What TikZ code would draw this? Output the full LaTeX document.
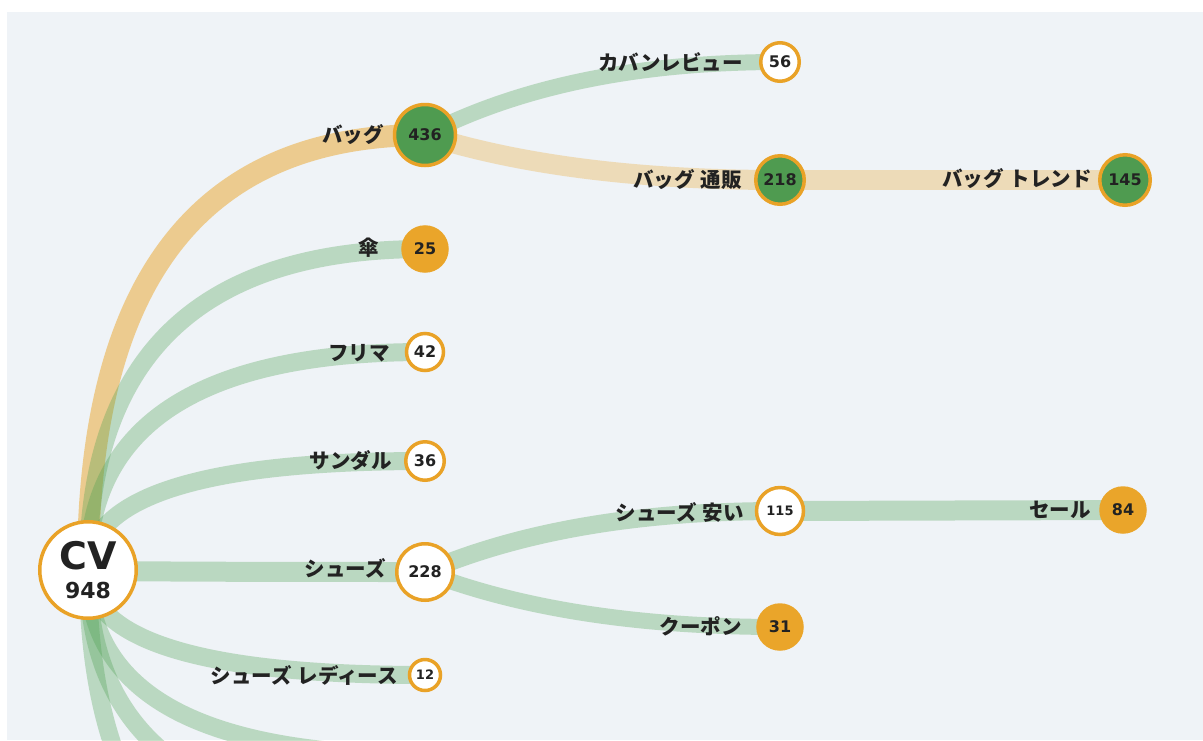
\documentclass[tikz,border=0pt]{standalone}
\usepackage{fontspec}
\newfontfamily\jpf{Noto Sans CJK JP}
\newfontfamily\numf{DejaVu Sans}
\usetikzlibrary{calc}
\definecolor{bgc}{HTML}{EFF3F7}
\definecolor{ring}{HTML}{E9A227}
\definecolor{gfill}{HTML}{4F9B50}
\definecolor{ofill}{HTML}{EAA52A}
\definecolor{glink}{HTML}{4CA050}
\definecolor{olink}{HTML}{EBA528}
\definecolor{txt}{HTML}{222222}
\pgfdeclarelayer{bg}
\pgfdeclarelayer{links}
\pgfsetlayers{bg,links,main}
% #1 style, #2 k (control point position), #3 source, #4 target
\newcommand\qlink[4]{%
  \coordinate (qq) at ($(#3.center|-#4.center)!#2!(#4.center)$);
  \draw[#1] (#3.center) .. controls ($(#3.center)!0.6667!(qq)$) and ($(#4.center)!0.6667!(qq)$) .. (#4.center);}
\newcommand\jsp{\hspace{6pt}}
\begin{document}
\begin{tikzpicture}[x=1pt,y=-1pt,
  nd/.style={circle,inner sep=0pt,draw=ring,line width=3.5pt,text=txt,font=\numf\bfseries\fontsize{16}{16}\selectfont},
  wnode/.style={nd,fill=white},
  gnode/.style={nd,fill=gfill},
  onode/.style={nd,fill=ofill,draw=ofill},
  lbl/.style={anchor=east,text=txt,font=\jpf\bfseries\fontsize{20.5}{20.5}\selectfont,inner sep=0pt},
  glk/.style={draw=glink,draw opacity=0.32,line width=#1},
  olk/.style={draw=olink,draw opacity=0.5,line width=#1},
  olkl/.style={draw=olink,draw opacity=0.3,line width=#1},
]
\useasboundingbox (0,0) rectangle (1203,740);
\begin{pgfonlayer}{bg}
\fill[white] (0,0) rectangle (1203,740);
\fill[bgc] (7,12) rectangle (1203,740);
\end{pgfonlayer}

% nodes
\node[wnode,minimum size=96.5pt] (cv) at (88,570) {};
\node[text=txt,inner sep=0pt,font=\numf\bfseries\fontsize{38}{38}\selectfont] (cvt) at (88,556) {CV};
\node[text=txt,inner sep=0pt,font=\numf\bfseries\fontsize{22}{22}\selectfont] (cvn) at (88,590) {948};

\node[gnode,minimum size=61pt] (bag) at (425,135) {436};
\node[wnode,minimum size=38.5pt] (kaban) at (780,62) {56};
\node[gnode,minimum size=48.5pt] (tsuhan) at (780,180) {218};
\node[gnode,minimum size=50.5pt] (trend) at (1125,180) {145};
\node[onode,minimum size=44pt] (kasa) at (425,249) {25};
\node[wnode,minimum size=37pt] (furima) at (425,352) {42};
\node[wnode,minimum size=38.5pt] (sandal) at (425,461) {36};
\node[wnode,minimum size=56.5pt] (shoes) at (425,572) {228};
\node[wnode,minimum size=31pt,font=\numf\bfseries\fontsize{13}{13}\selectfont] (ladies) at (425,675) {12};
\node[wnode,minimum size=47pt,font=\numf\bfseries\fontsize{13}{13}\selectfont] (yasui) at (780,511) {115};
\node[onode,minimum size=44pt] (sale) at (1123,510) {84};
\node[onode,minimum size=44pt] (coupon) at (780,627) {31};
\coordinate (h1) at (425,755);
\coordinate (h2) at (425,822);
\coordinate (h3) at (425,944);

% labels
\node[lbl] (lbag) at (384,135) {バッグ};
\node[lbl] (lkaban) at (743,62) {カバンレビュー};
\node[lbl] (ltsuhan) at (742,180) {バッグ\jsp 通販};
\node[lbl] (ltrend) at (1092,179) {バッグ\jsp トレンド};
\node[lbl] (lkasa) at (379,248) {傘};
\node[lbl] (lfurima) at (390,353) {フリマ};
\node[lbl] (lsandal) at (392,461) {サンダル};
\node[lbl] (lshoes) at (386,568) {シューズ};
\node[lbl] (lyasui) at (744,512) {シューズ\jsp 安い};
\node[lbl] (lsale) at (1091,510) {セール};
\node[lbl] (lcoupon) at (742,626) {クーポン};
\node[lbl] (lladies) at (398,675) {シューズ\jsp レディース};

% links
\begin{pgfonlayer}{links}
\clip (0,0) rectangle (1203,740);
\qlink{olk=22}{0}{cv}{bag}
\qlink{glk=18}{0}{cv}{kasa}
\qlink{glk=18}{0}{cv}{furima}
\qlink{glk=18}{0}{cv}{sandal}
\qlink{glk=20}{0}{cv}{shoes}
\qlink{glk=18}{0}{cv}{ladies}
\qlink{glk=18}{0}{cv}{h1}
\qlink{glk=18}{0}{cv}{h2}
\qlink{glk=18}{0}{cv}{h3}
\qlink{glk=16}{0.4}{bag}{kaban}
\qlink{olkl=20}{0.4}{bag}{tsuhan}
\draw[olkl=20] (tsuhan.center) -- (trend.center);
\qlink{glk=18}{0.4}{shoes}{yasui}
\qlink{glk=16}{0.4}{shoes}{coupon}
\draw[glk=20] (yasui.center) -- (sale.center);
\end{pgfonlayer}
\end{tikzpicture}
\end{document}
